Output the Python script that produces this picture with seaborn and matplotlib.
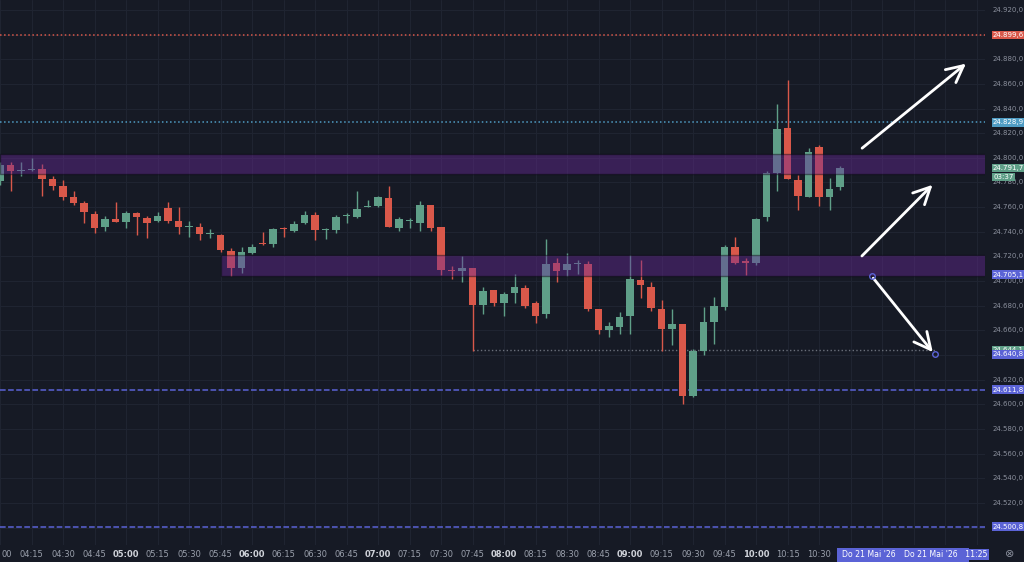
import numpy as np
import matplotlib
matplotlib.use("Agg")
import matplotlib.pyplot as plt
import seaborn as sns
from matplotlib.patches import Rectangle

sns.set_theme(style="dark")
plt.rcParams['font.family'] = ['DejaVu Sans']

# 5-minute candles starting 04:00
opens  = [24781,24794,24789,24790,24791,24783,24777,24768,24763,24754.6,24744,24750.5,24748,24755,24751,24749,24759.7,24749,24744,24744,24738.5,24737.5,24724.5,24711,24723,24731,24730,24743,24741,24747,24754,24741.5,24741.5,24752.5,24752,24760,24761,24767.8,24743,24749,24747.5,24762,24743.5,24709,24708,24710.5,24681,24693,24682,24690,24694.5,24682,24673,24714.5,24709,24714,24714,24677,24660,24663,24671.5,24701,24695.6,24677.5,24661,24665,24607,24643,24667,24679,24728,24716.7,24715,24752,24787.5,24824,24782,24768.5,24809,24768,24776]
closes = [24794,24789,24790,24791,24783,24777,24768,24763,24756,24743,24750,24748,24755,24752,24747.5,24753,24749,24744,24745,24738.5,24739,24725,24711,24724,24728,24730,24742,24742,24746.5,24754,24741.5,24742,24752,24752.8,24758.5,24760.5,24768.5,24744,24750,24749.5,24762,24743,24709,24708,24711,24681,24692,24682,24689.5,24695,24680,24672,24714,24708.5,24714,24714.5,24677,24660.5,24664,24671,24702,24696.5,24678.5,24661,24665,24607,24643.5,24667,24680,24728,24714.5,24714.5,24750.5,24787.5,24823,24783,24769,24805,24768,24775,24792]
highs  = [24797,24797,24797,24800,24795,24785,24782,24773,24765,24757,24753,24764.5,24757,24756,24753,24756,24764,24760,24749,24747,24742,24738,24727,24728,24730,24740,24743,24744,24749,24757,24756,24743,24754,24755,24773,24765.5,24769,24777.5,24752,24751,24765,24762,24744,24712,24720,24711,24695,24693,24691,24706,24697,24684,24734,24718.5,24723,24717,24716,24677,24667,24675,24721,24717,24699,24685,24677,24665,24645,24679,24687,24729,24736,24719,24751,24789,24844,24863,24786,24808,24810,24784,24793]
lows   = [24778,24773,24785,24789,24769,24774,24766,24762,24747,24739,24741,24748,24743,24737.5,24735,24748,24747,24738,24736,24733,24735,24724,24704,24707,24722,24729,24728,24736,24740,24746,24733,24734,24739,24747,24751,24760,24760.5,24744,24741,24743,24741,24741,24705,24702,24699,24643,24673,24680,24672,24682,24678.5,24666,24670,24699,24704,24706,24676,24657,24655,24657,24657,24686,24676,24643,24648,24600,24606,24640,24649,24676.5,24714,24705,24713,24749,24773.5,24783,24758,24768,24761,24758,24774]

zones = [(24787, 24803.5, 0, 95), (24704, 24721, 21, 95)]
hlines = [(24899.6, '#d9584a', ':'), (24828.9, '#4f9cc4', ':'), (24611.8, '#5b63d6', '--'), (24500.8, '#5b63d6', '--')]
price_ticks = np.arange(24500, 24921, 20)
axis_labels = [(24899.6, '24.899,6', '#d9584a'), (24828.9, '24.828,9', '#4f9cc4'),
               (24791.7, '24.791,7', '#5f9f88'), (24705.1, '24.705,1', '#5b63d6'),
               (24644.1, '24.644,1', '#5f9f88'), (24640.8, '24.640,8', '#5b63d6'),
               (24611.8, '24.611,8', '#5b63d6'), (24500.8, '24.500,8', '#5b63d6')]
time_labels = ['00', '04:15', '04:30', '04:45', '05:00', '05:15', '05:30', '05:45', '06:00', '06:15', '06:30', '06:45',
               '07:00', '07:15', '07:30', '07:45', '08:00', '08:15', '08:30', '08:45', '09:00', '09:15', '09:30', '09:45',
               '10:00', '10:15', '10:30', '', '', '11:45']
arrows = [((81.9, 24806.4), (92.2, 24877.8)), ((81.9, 24718.8), (89.0, 24779.7)), ((83.0, 24704.2), (89.0, 24640.7))]

BG = '#161a25'; UP = '#5f9f88'; DN = '#d9584a'; GRID = '#1f2431'; TXT = '#8a8f9c'
fig = plt.figure(figsize=(10.24, 5.62), dpi=100, facecolor=BG)
AX_B = 17
ax = fig.add_axes([0, AX_B/562, 985/1024, (562-AX_B)/562], facecolor=BG)
ymin, ymax = 24486, 24928
ax.set_xlim(0, 985/10.5); ax.set_ylim(ymin, ymax)
for s in ax.spines.values(): s.set_visible(False)
ax.set_xticks([]); ax.set_yticks([])
for t in price_ticks: ax.axhline(t, color=GRID, lw=0.8, zorder=0)
for k in range(0, 95, 3): ax.axvline(k, color=GRID, lw=0.8, zorder=0)

x = np.arange(len(opens))
o = np.array(opens); c = np.array(closes)
cols = [UP if cc >= oo else DN for oo, cc in zip(o, c)]
ax.vlines(x, lows, highs, colors=cols, lw=1, zorder=2)
body = np.where(np.abs(c - o) < 0.8, 0.8, c - o)
ax.bar(x, body, bottom=o, width=0.72, color=cols, zorder=3, linewidth=0)

for lo, hi, x0, x1 in zones:
    ax.add_patch(Rectangle((x0, lo), x1 - x0, hi - lo, facecolor='#6a2a9a', alpha=0.42, edgecolor='#05060a', lw=1, zorder=4))
for v, col, ls in hlines:
    ax.axhline(v, color=col, ls=ls, lw=1.1, zorder=1)
ax.hlines(24644.1, 45, 89, colors='#6a6f7a', linestyles=':', lw=1, zorder=1)
for (x0, y0), (x1, y1) in arrows:
    ax.annotate('', xy=(x1, y1), xytext=(x0, y0),
                arrowprops=dict(arrowstyle='->,head_length=1.0,head_width=0.5', color='white', lw=2), zorder=6)
ax.plot([83.0, 89.0], [24704.2, 24640.7], 'o', mfc='none', mec='#5b63d6', ms=4, zorder=7)

def fy(v):  # price -> figure fraction
    return (AX_B + (562 - AX_B) * (v - ymin) / (ymax - ymin)) / 562
for t in price_ticks:
    s = f"{t/1000:.3f},0"
    fig.text(993/1024, fy(t), s, color=TXT, fontsize=5.0, va='center')
for v, s, col in axis_labels:
    fig.text(993/1024, fy(v), s, color='white', fontsize=5.0, va='center',
             bbox=dict(boxstyle='square,pad=0.2', fc=col, ec='none'))
fig.text(993/1024, fy(24791.7) - 9/562, '03:37', color='white', fontsize=5.0, va='center',
         bbox=dict(boxstyle='square,pad=0.2', fc=UP, ec='none'))
for k, s in enumerate(time_labels):
    if not s: continue
    px = k * 31.5 if k > 0 else 2
    bold = s in ('05:00', '06:00', '07:00', '08:00', '09:00', '10:00')
    fig.text(px/1024, 3/562, s, color='#9aa0ac' if not bold else '#d0d3da', fontsize=6,
             ha='center' if k > 0 else 'left', va='bottom', fontweight='bold' if bold else 'normal')
fig.patches.append(Rectangle((837/1024, 0), 132/1024, 14/562, transform=fig.transFigure, fc='#5b63d6', ec='none', zorder=5))
fig.text(842/1024, 3/562, "Do 21 Mai '26   10:50", color='white', fontsize=5.6, va='bottom', zorder=6)
fig.text(904/1024, 3/562, "Do 21 Mai '26   11:25", color='white', fontsize=5.6, va='bottom', zorder=7,
         bbox=dict(boxstyle='square,pad=0.15', fc='#5b63d6', ec='none'))
fig.text(1010/1024, 3/562, '⊗', color=TXT, fontsize=8, ha='center', va='bottom')
fig.savefig('out.png', dpi=100, facecolor=BG)
